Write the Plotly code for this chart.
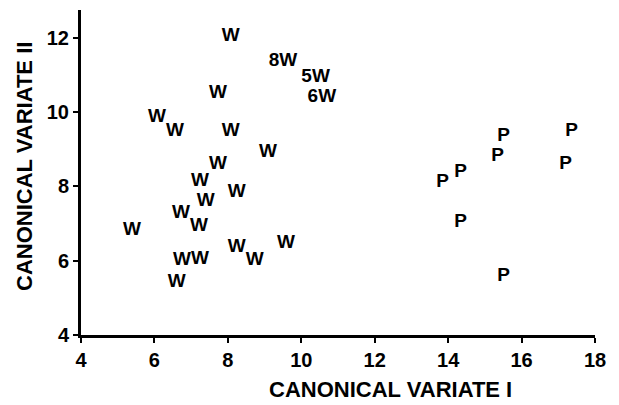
import plotly.graph_objects as go

# W group (canonical variate I, II) and labels
w_x = [8.08, 9.50, 10.39, 10.56, 7.73, 6.07, 6.56, 8.08, 9.09, 7.73, 7.24, 8.24,
       7.40, 6.72, 7.21, 5.39, 8.24, 8.73, 9.58, 6.75, 7.24, 6.61]
w_y = [12.05, 11.38, 10.95, 10.41, 10.51, 9.86, 9.49, 9.49, 8.92, 8.59, 8.14, 7.84,
       7.59, 7.27, 6.92, 6.81, 6.35, 6.00, 6.46, 6.00, 6.03, 5.43]
w_lab = ["W", "8W", "5W", "6W", "W", "W", "W", "W", "W", "W", "W", "W",
         "W", "W", "W", "W", "W", "W", "W", "W", "W", "W"]

# P group
p_x = [15.51, 15.35, 14.34, 13.85, 17.36, 17.20, 14.34, 15.51]
p_y = [9.35, 8.81, 8.38, 8.11, 9.49, 8.59, 7.03, 5.59]
p_lab = ["P"] * len(p_x)

x_ticks = [4, 6, 8, 10, 12, 14, 16, 18]
y_ticks = [4, 6, 8, 10, 12]

FONT = "Liberation Sans, Arial, Helvetica, sans-serif"

fig = go.Figure()
fig.add_trace(go.Scatter(x=w_x, y=w_y, mode="text", text=w_lab,
                         textposition="middle center",
                         textfont=dict(family=FONT, size=19, color="black", weight="bold"),
                         hoverinfo="skip", showlegend=False))
fig.add_trace(go.Scatter(x=p_x, y=p_y, mode="text", text=p_lab,
                         textposition="middle center",
                         textfont=dict(family=FONT, size=19, color="black", weight="bold"),
                         hoverinfo="skip", showlegend=False))

axis_common = dict(showgrid=False, zeroline=False, showline=True, linecolor="black",
                   linewidth=3, ticks="outside", ticklen=5, tickwidth=2, tickcolor="black",
                   tickfont=dict(family=FONT, size=20, color="black", weight="bold"))

fig.update_xaxes(range=[4, 18], tickvals=x_ticks, ticktext=[str(t) for t in x_ticks],
                 **axis_common)
fig.update_yaxes(range=[4, 12.75], tickvals=y_ticks, ticktext=[str(t) for t in y_ticks],
                 **axis_common)

fig.update_layout(
    width=619, height=405,
    margin=dict(l=81, r=24, t=10, b=70),
    plot_bgcolor="white", paper_bgcolor="white",
    annotations=[
        dict(text="CANONICAL VARIATE I", xref="paper", yref="paper", x=0.603, y=0,
             yshift=-54, showarrow=False, yanchor="middle", xanchor="center",
             font=dict(family=FONT, size=22, color="black", weight="bold")),
        dict(text="CANONICAL VARIATE II", xref="paper", yref="paper", x=0, y=0.517,
             xshift=-56, showarrow=False, textangle=-90, xanchor="center", yanchor="middle",
             font=dict(family=FONT, size=22, color="black", weight="bold")),
    ],
)

fig.write_html("out.html")
